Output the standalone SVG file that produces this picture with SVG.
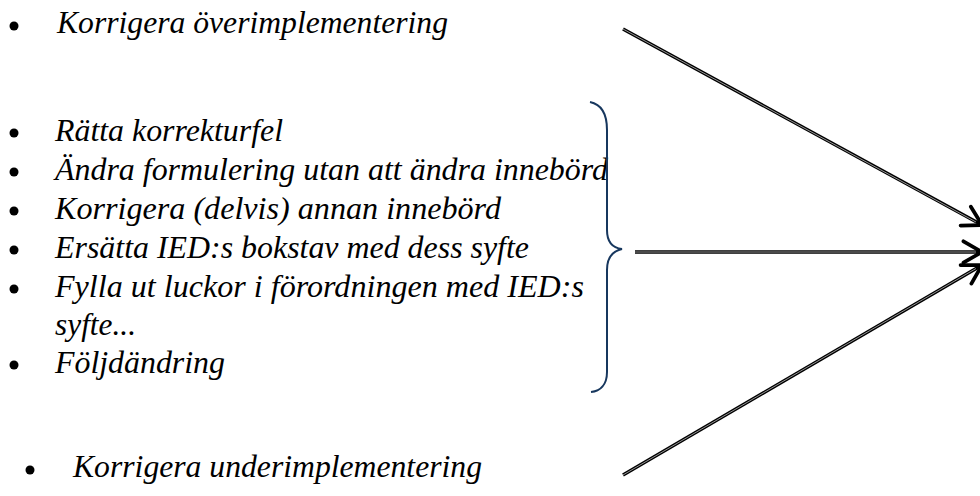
<svg xmlns="http://www.w3.org/2000/svg" width="980" height="496" viewBox="0 0 980 496">
  <defs>
    <style>
      .t { font-family: "Liberation Serif", "Times New Roman", serif; font-style: italic; font-size: 31px; fill: #000; }
      .b { fill: #000; }
      .brace { fill: none; stroke: #17375E; stroke-width: 2; }
      .shaft { fill: none; stroke: #000; stroke-width: 3.4; }
      .inner { fill: none; stroke: #bbb; stroke-width: 0.8; }
    </style>
    <marker id="open" markerUnits="userSpaceOnUse" markerWidth="30" markerHeight="30" viewBox="-22 -14 26 28" refX="0" refY="0" orient="auto">
      <path d="M-17.3,-10 L0,0 L-17.3,10" fill="none" stroke="#000" stroke-width="3.5" stroke-linecap="round" stroke-linejoin="miter"/>
    </marker>
  </defs>
  <rect width="980" height="496" fill="#fff"/>

  <g id="over">
    <circle class="b" cx="14" cy="26" r="4.5"/>
    <text class="t" x="57" y="33" textLength="391" lengthAdjust="spacingAndGlyphs">Korrigera överimplementering</text>
  </g>

  <g id="list">
    <circle class="b" cx="14" cy="133" r="4.5"/>
    <text class="t" x="55" y="141" textLength="228" lengthAdjust="spacingAndGlyphs">Rätta korrekturfel</text>
    <circle class="b" cx="14" cy="172" r="4.5"/>
    <text class="t" x="55" y="180" textLength="553" lengthAdjust="spacingAndGlyphs">Ändra formulering utan att ändra innebörd</text>
    <circle class="b" cx="14" cy="211" r="4.5"/>
    <text class="t" x="55" y="219" textLength="446" lengthAdjust="spacingAndGlyphs">Korrigera (delvis) annan innebörd</text>
    <circle class="b" cx="14" cy="250" r="4.5"/>
    <text class="t" x="55" y="258" textLength="474" lengthAdjust="spacingAndGlyphs">Ersätta IED:s bokstav med dess syfte</text>
    <circle class="b" cx="14" cy="289" r="4.5"/>
    <text class="t" x="55" y="297" textLength="529" lengthAdjust="spacingAndGlyphs">Fylla ut luckor i förordningen med IED:s</text>
    <text class="t" x="55" y="335" textLength="81" lengthAdjust="spacingAndGlyphs">syfte...</text>
    <circle class="b" cx="14" cy="365" r="4.5"/>
    <text class="t" x="55" y="373" textLength="170" lengthAdjust="spacingAndGlyphs">Följdändring</text>
  </g>

  <g id="under">
    <circle class="b" cx="30" cy="470" r="4.5"/>
    <text class="t" x="73" y="477" textLength="409" lengthAdjust="spacingAndGlyphs">Korrigera underimplementering</text>
  </g>

  <g id="brace">
    <path class="brace" d="M590,102 C600,104 607,112 607,130 L607,230 C607,242 613,248 622,249 C613,251 607,258 607,270 L607,372 C607,385 600,391 591,392"/>
  </g>

  <g id="connectors">
    <line class="shaft" x1="623" y1="29" x2="982" y2="225" marker-end="url(#open)"/>
    <line class="inner" x1="623" y1="29" x2="976" y2="222"/>
    <line class="shaft" x1="635" y1="252" x2="982" y2="252" marker-end="url(#open)"/>
    <line class="inner" x1="635" y1="252" x2="976" y2="252"/>
    <line class="shaft" x1="623" y1="475" x2="982" y2="265" marker-end="url(#open)"/>
    <line class="inner" x1="623" y1="475" x2="976" y2="268.5"/>
  </g>
</svg>
